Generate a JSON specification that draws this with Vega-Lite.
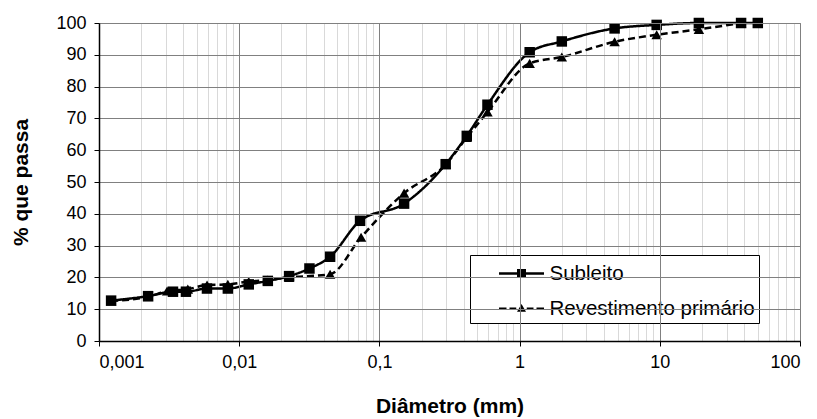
{
  "$schema": "https://vega.github.io/schema/vega-lite/v6.json",
  "width": 701,
  "height": 318,
  "autosize": {"type": "none"},
  "padding": {"left": 99, "top": 23, "right": 17, "bottom": 78},
  "background": "white",
  "config": {
    "font": "Liberation Sans",
    "view": {"stroke": "#808080", "strokeWidth": 1}
  },
  "resolve": {"axis": {"x": "independent", "y": "independent"}, "scale": {"shape": "independent"}, "legend": {"shape": "independent", "strokeDash": "independent"}},
  "datasets": {
    "pts": [
      {"d": 0.00122, "p": 12.7, "s": "Subleito"},
      {"d": 0.00224, "p": 14.1, "s": "Subleito"},
      {"d": 0.00337, "p": 15.5, "s": "Subleito"},
      {"d": 0.00417, "p": 15.5, "s": "Subleito"},
      {"d": 0.00589, "p": 16.5, "s": "Subleito"},
      {"d": 0.0083, "p": 16.5, "s": "Subleito"},
      {"d": 0.0117, "p": 17.8, "s": "Subleito"},
      {"d": 0.016, "p": 18.9, "s": "Subleito"},
      {"d": 0.0227, "p": 20.4, "s": "Subleito"},
      {"d": 0.0317, "p": 22.8, "s": "Subleito"},
      {"d": 0.0445, "p": 26.5, "s": "Subleito"},
      {"d": 0.0728, "p": 37.8, "s": "Subleito"},
      {"d": 0.15, "p": 43.2, "s": "Subleito"},
      {"d": 0.297, "p": 55.6, "s": "Subleito"},
      {"d": 0.42, "p": 64.5, "s": "Subleito"},
      {"d": 0.59, "p": 74.3, "s": "Subleito"},
      {"d": 1.18, "p": 90.8, "s": "Subleito"},
      {"d": 2.0, "p": 94.2, "s": "Subleito"},
      {"d": 4.76, "p": 98.3, "s": "Subleito"},
      {"d": 9.5, "p": 99.4, "s": "Subleito"},
      {"d": 19, "p": 100, "s": "Subleito"},
      {"d": 38, "p": 100, "s": "Subleito"},
      {"d": 50, "p": 100, "s": "Subleito"},
      {"d": 0.00122, "p": 12.6, "s": "Revestimento primário"},
      {"d": 0.00224, "p": 13.9, "s": "Revestimento primário"},
      {"d": 0.00306, "p": 15.7, "s": "Revestimento primário"},
      {"d": 0.0043, "p": 16.3, "s": "Revestimento primário"},
      {"d": 0.0059, "p": 17.6, "s": "Revestimento primário"},
      {"d": 0.0083, "p": 17.8, "s": "Revestimento primário"},
      {"d": 0.0117, "p": 18.7, "s": "Revestimento primário"},
      {"d": 0.016, "p": 19.2, "s": "Revestimento primário"},
      {"d": 0.0227, "p": 20.0, "s": "Revestimento primário"},
      {"d": 0.0445, "p": 21.0, "s": "Revestimento primário"},
      {"d": 0.074, "p": 32.6, "s": "Revestimento primário"},
      {"d": 0.15, "p": 46.5, "s": "Revestimento primário"},
      {"d": 0.297, "p": 55.5, "s": "Revestimento primário"},
      {"d": 0.42, "p": 64.0, "s": "Revestimento primário"},
      {"d": 0.59, "p": 72.0, "s": "Revestimento primário"},
      {"d": 1.18, "p": 87.3, "s": "Revestimento primário"},
      {"d": 2.0, "p": 89.3, "s": "Revestimento primário"},
      {"d": 4.76, "p": 94.1, "s": "Revestimento primário"},
      {"d": 9.5, "p": 96.3, "s": "Revestimento primário"},
      {"d": 19, "p": 98.0, "s": "Revestimento primário"},
      {"d": 38, "p": 100, "s": "Revestimento primário"}
    ]
  },
  "data": {"name": "pts"},
  "layer": [
    {
      "mark": {"type": "rule", "opacity": 0},
      "encoding": {
        "x": {
          "field": "d", "type": "quantitative",
          "scale": {"type": "log", "domain": [0.001, 100], "nice": false},
          "axis": {
            "orient": "top",
            "values": [0.002,0.003,0.004,0.005,0.006,0.007,0.008,0.009,0.02,0.03,0.04,0.05,0.06,0.07,0.08,0.09,0.2,0.3,0.4,0.5,0.6,0.7,0.8,0.9,2,3,4,5,6,7,8,9,20,30,40,50,60,70,80,90],
            "labels": false, "ticks": false, "domain": false, "title": null,
            "grid": true, "gridColor": "#d9d9d9", "gridWidth": 1, "zindex": 0
          }
        }
      }
    },
    {
      "mark": {"type": "line", "interpolate": "monotone", "color": "black", "strokeWidth": 2.5},
      "encoding": {
        "x": {
          "field": "d", "type": "quantitative",
          "scale": {"type": "log", "domain": [0.001, 100], "nice": false},
          "axis": {
            "orient": "bottom",
            "values": [0.001, 0.01, 0.1, 1, 10, 100],
            "labelExpr": "replace(format(datum.value, '~g'), '.', ',')",
            "labelFontSize": 18, "labelColor": "black", "labelPadding": 7, "labelOverlap": false,
            "grid": true, "gridColor": "#808080", "gridWidth": 1,
            "domainColor": "black", "domainWidth": 1.5,
            "tickColor": "black", "tickSize": 5,
            "title": "Diâmetro (mm)", "titleFontSize": 21, "titleFontWeight": "bold",
            "titleColor": "black", "titlePadding": 24, "zindex": 1
          }
        },
        "y": {
          "field": "p", "type": "quantitative",
          "scale": {"domain": [0, 100], "nice": false},
          "axis": {
            "orient": "left",
            "values": [0,10,20,30,40,50,60,70,80,90,100],
            "labelFontSize": 18, "labelColor": "black", "labelPadding": 8, "labelOverlap": false,
            "grid": true, "gridColor": "#808080", "gridWidth": 1,
            "domainColor": "black", "domainWidth": 1.5,
            "tickColor": "black", "tickSize": 5,
            "title": "% que passa", "titleFontSize": 21, "titleFontWeight": "bold",
            "titleColor": "black", "titlePadding": 24, "zindex": 1
          }
        },
        "strokeDash": {
          "field": "s", "type": "nominal",
          "scale": {"domain": ["Subleito", "Revestimento primário"], "range": [[1, 0], [7, 4]]},
          "legend": null
        },
        "detail": {"field": "s"}
      }
    },
    {
      "mark": {"type": "point", "filled": true, "opacity": 1, "color": "black", "size": 110},
      "encoding": {
        "x": {"field": "d", "type": "quantitative", "scale": {"type": "log", "domain": [0.001, 100], "nice": false}, "axis": null},
        "y": {"field": "p", "type": "quantitative", "scale": {"domain": [0, 100], "nice": false}, "axis": null},
        "shape": {
          "field": "s", "type": "nominal",
          "scale": {"domain": ["Subleito", "Revestimento primário"], "range": ["square", "triangle-up"]},
          "legend": null
        }
      }
    },
    {
      "mark": {"type": "point", "filled": true, "opacity": 0, "color": "black", "size": 900},
      "encoding": {
        "x": {"field": "d", "type": "quantitative", "scale": {"type": "log", "domain": [0.001, 100], "nice": false}, "axis": null},
        "y": {"field": "p", "type": "quantitative", "scale": {"domain": [0, 100], "nice": false}, "axis": null},
        "shape": {
          "field": "s", "type": "nominal",
          "scale": {
            "domain": ["Subleito", "Revestimento primário"],
            "range": [
              "M-1.5,-0.08H-0.3V-0.3H0.3V-0.08H1.5V0.08H0.3V0.3H-0.3V0.08H-1.5Z",
              "M-1.5,-0.07H-1.0V0.07H-1.5Z M-0.8,-0.07H-0.35V0.07H-0.8Z M0.35,-0.07H0.8V0.07H0.35Z M1.0,-0.07H1.5V0.07H1.0Z M0,-0.3L0.3,0.22H-0.3Z"
            ]
          },
          "legend": {
            "title": null, "orient": "none", "legendX": 371, "legendY": 232,
            "labelFontSize": 20.5, "labelColor": "black", "labelOffset": 13, "labelLimit": 0,
            "labelExpr": "datum.label + '\u2003\u2003'",
            "symbolSize": 900, "symbolFillColor": "black", "symbolStrokeColor": "black", "symbolStrokeWidth": 0, "symbolOpacity": 1,
            "symbolOffset": 33,
            "rowPadding": 9, "padding": 3.5, "strokeColor": "black",
            "fillColor": "white",
            "encode": {"legend": {"update": {"strokeWidth": {"value": 1.5}}}}
          }
        }
      }
    }
  ]
}
